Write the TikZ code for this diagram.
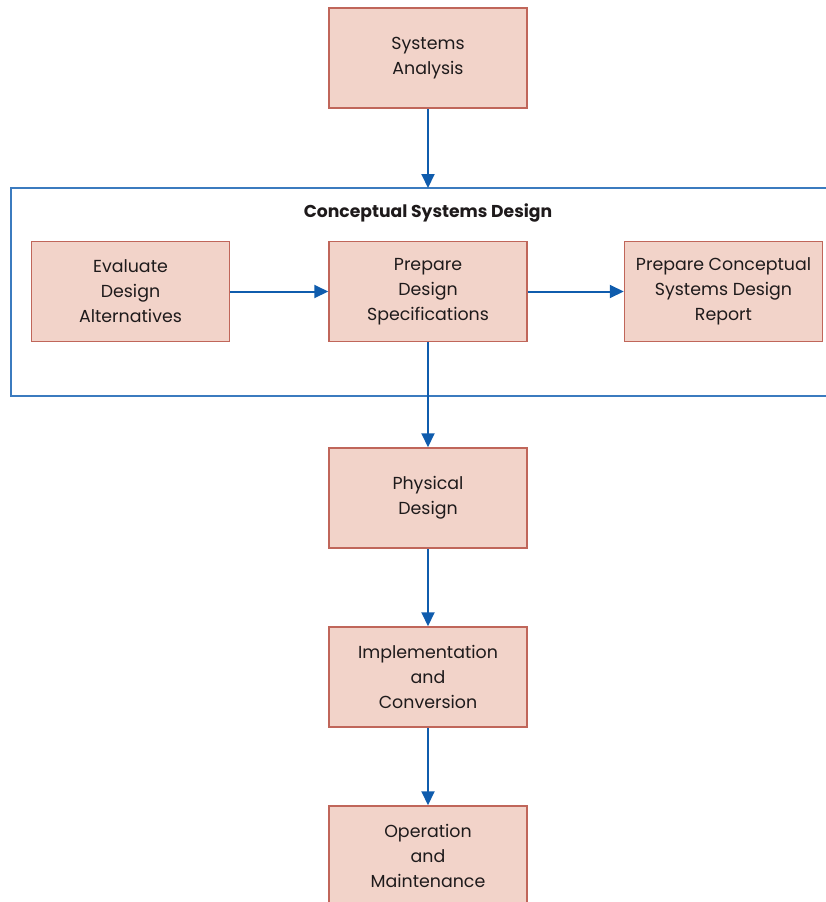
\documentclass[tikz,border=0pt]{standalone}
\usepackage{fontspec}
\setmainfont{Poppins}
\usetikzlibrary{arrows.meta}
\definecolor{boxfill}{HTML}{F2D3C9}
\definecolor{boxline}{HTML}{C0665A}
\definecolor{flow}{HTML}{0F5CAD}
\definecolor{frameline}{HTML}{3B7BBF}
\definecolor{ink}{HTML}{1E1A1B}
\begin{document}
\begin{tikzpicture}[x=1pt,y=-1pt,
  stage/.style={draw=boxline, line width=1.5pt, fill=boxfill,
    minimum width=198pt, minimum height=100pt, inner sep=0pt,
    align=center, text=ink, font=\fontsize{17.4}{25}\selectfont},
  flowarrow/.style={draw=flow, line width=2pt,
    -{Triangle[length=14pt,width=13pt]}}]
\useasboundingbox (0,0) rectangle (826,902);
\clip (0,0) rectangle (826,902);
% enclosing frame for the conceptual design phase
\draw[frameline, line width=1.5pt] (11,188) rectangle (840,396);
\coordinate (frametop) at (428,188);
\node[font=\bfseries\fontsize{17.2}{20}\selectfont, text=ink] (title) at (428,213) {Conceptual Systems Design};
% stages
\node[stage] (sa)   at (428,58)    {Systems\\Analysis};
\node[stage] (eval) at (130.5,291.5) {Evaluate\\Design\\Alternatives};
\node[stage] (spec) at (428,291.5) {Prepare\\Design\\Specifications};
\node[stage] (rep)  at (723.5,291.5) {Prepare Conceptual\\Systems Design\\Report};
\node[stage] (phys) at (428,498)   {Physical\\Design};
\node[stage] (impl) at (428,677)   {Implementation\\and\\Conversion};
\node[stage] (oper) at (428,856)   {Operation\\and\\Maintenance};
% connectors
\draw[flowarrow] (sa) -- (frametop);
\draw[flowarrow] (eval) -- (spec);
\draw[flowarrow] (spec) -- (rep);
\draw[flowarrow] (spec) -- (phys);
\draw[flowarrow] (phys) -- (impl);
\draw[flowarrow] (impl) -- (oper);
\end{tikzpicture}
\end{document}
